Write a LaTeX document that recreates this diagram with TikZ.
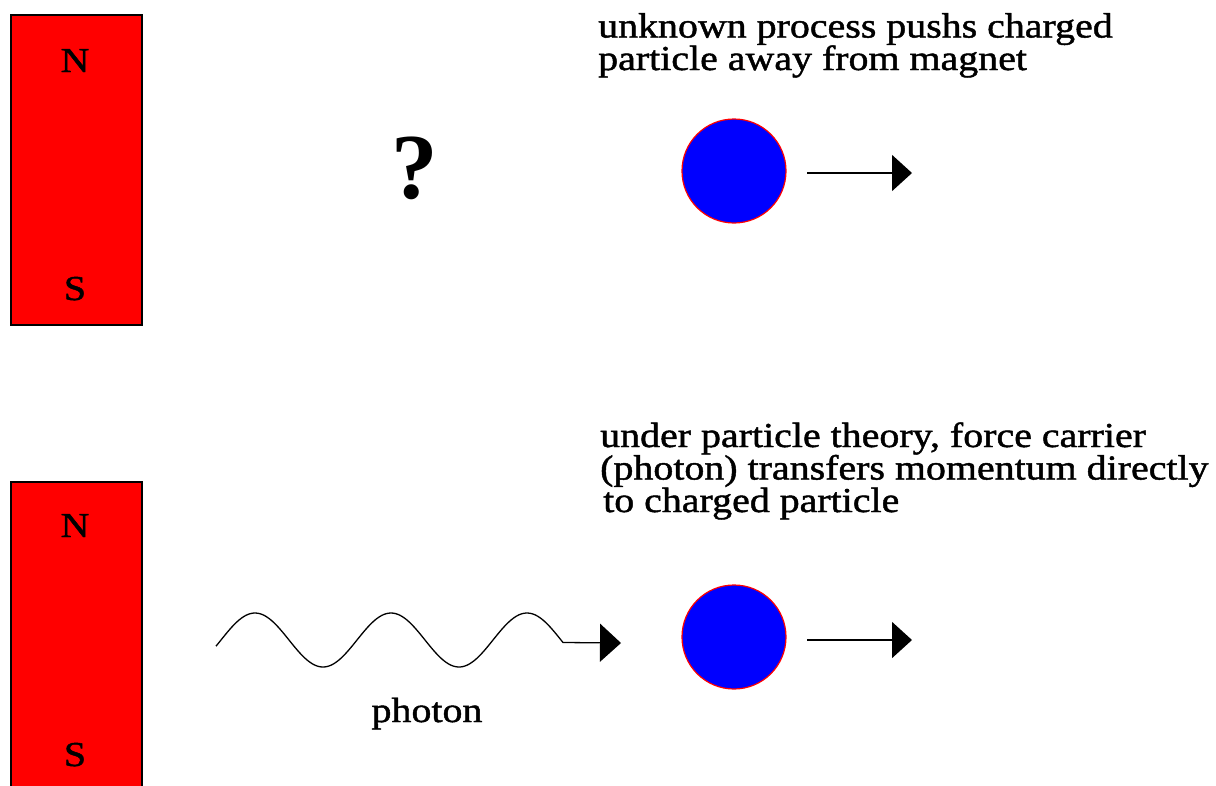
\documentclass[tikz,border=0pt]{standalone}
\usepackage{fontspec}
\setmainfont{Liberation Serif}
\newfontfamily\capfont[FakeStretch=1.14,FakeBold=1.3]{Liberation Serif}
\usetikzlibrary{arrows.meta}
\lineskiplimit=-100pt
\begin{document}
\begin{tikzpicture}[x=1pt,y=-1pt,
  magnet/.style={draw=black, line width=1.5pt, fill=red, rectangle, anchor=north west, inner sep=0pt},
  pole/.style={font=\capfont\fontsize{35}{35}\selectfont, inner sep=0pt, anchor=base},
  particle/.style={circle, fill=blue, draw=red, line width=1.2pt, minimum size=104pt, inner sep=0pt},
  force/.style={line width=1.6pt, -{Triangle[length=20pt,width=36pt]}},
  wave/.style={line width=1.3pt, -{Triangle[length=21pt,width=38pt]}},
  caption/.style={font=\capfont\fontsize{35}{32.5}\selectfont, align=left, inner sep=0pt, anchor=base west},
]
\useasboundingbox (0,0) rectangle (1216,785);
\clip (0,0) rectangle (1216,785);
% top magnet
\node[magnet, minimum width=131pt, minimum height=310pt] (mag1) at (10,14) {};
\node[pole] (n1) at (75,72) {N};
\node[pole] (s1) at (75,300) {S};
% bottom magnet
\node[magnet, minimum width=131pt, minimum height=330pt] (mag2) at (10,481) {};
\node[pole] (n2) at (75,537) {N};
\node[pole] (s2) at (75,766) {S};
% question mark
\node[font=\fontsize{93}{93}\selectfont\bfseries, inner sep=0pt, anchor=base] (q) at (415,198) {?};
% top text
\node[caption] (t1) at (598,70) {unknown process pushs charged\\particle away from magnet};
% top particle and arrow
\node[particle] (p1) at (734,171) {};
\coordinate (a1s) at (807,173);
\coordinate (a1e) at (912,173);
\draw[force] (a1s) -- (a1e);
% bottom text
\node[caption] (t2) at (600,512) {under particle theory, force carrier\\(photon) transfers momentum directly\\\hspace*{3pt}to charged particle};
% bottom particle and arrow
\node[particle] (p2) at (734,637) {};
\coordinate (a2s) at (807,640);
\coordinate (a2e) at (912,640);
\draw[force] (a2s) -- (a2e);
% photon
\coordinate (ph1) at (216,646);
\coordinate (ph2) at (621,643);
\draw[wave] plot[domain=216:563, samples=150, smooth] (\x,{640-27*sin((\x-221)/136*360)}) -- (ph2);
\node[pole] (phl) at (427,722) {photon};
\end{tikzpicture}
\end{document}
